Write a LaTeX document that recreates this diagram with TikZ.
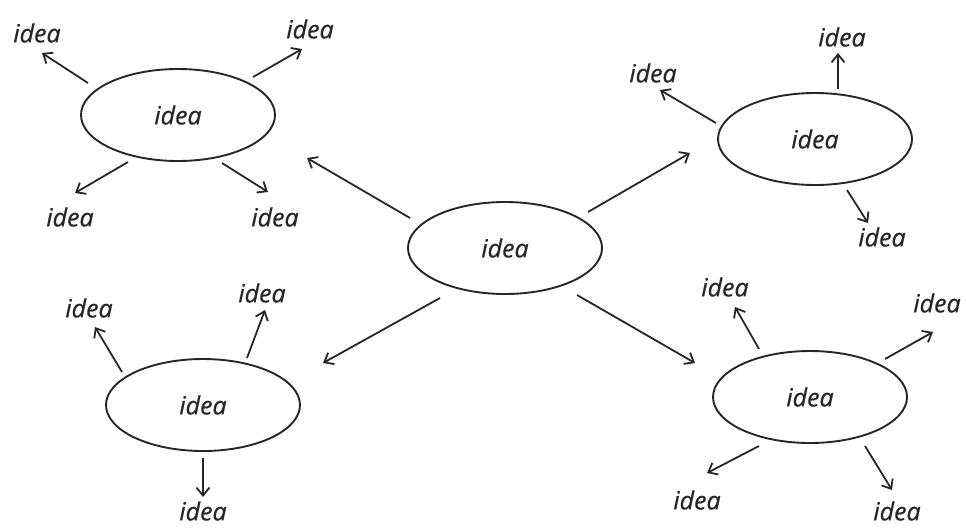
\documentclass[tikz,border=0pt]{standalone}
\usepackage{fontspec}
\setmainfont{Open Sans}[FakeBold=0.6]
\usetikzlibrary{shapes.geometric,arrows.meta,calc}
\begin{document}
\begin{tikzpicture}[x=1pt,y=-1pt,
  bubble/.style={draw, ellipse, line width=1.9pt, minimum width=194pt, minimum height=92pt, inner sep=0pt, font=\fontsize{25}{27}\selectfont\itshape, text=black!85, draw=black!85},
  lbl/.style={inner sep=0pt, font=\fontsize{25}{27}\selectfont\itshape, text=black!85},
  arr/.style={-{Straight Barb[length=8pt,width=13pt,line width=1.8pt]}, line width=1.8pt, draw=black!85}]
\useasboundingbox (0,0) rectangle (966,528);
% ellipses
\node[bubble] (e1) at (178,115) {idea};
\node[bubble] (e2) at (815,139) {idea};
\node[bubble] (e3) at (505,248) {idea};
\node[bubble] (e4) at (203,405) {idea};
\node[bubble] (e5) at (810,397) {idea};
% labels
\node[lbl] (l1a) at (37,33) {idea};
\node[lbl] (l1b) at (310,29) {idea};
\node[lbl] (l1c) at (70,217) {idea};
\node[lbl] (l1d) at (275,217) {idea};
\node[lbl] (l2a) at (653,73) {idea};
\node[lbl] (l2b) at (842,37) {idea};
\node[lbl] (l2c) at (882,237) {idea};
\node[lbl] (l4a) at (89,308) {idea};
\node[lbl] (l4b) at (262,293) {idea};
\node[lbl] (l4c) at (203,511) {idea};
\node[lbl] (l5a) at (725,287) {idea};
\node[lbl] (l5b) at (937,303) {idea};
\node[lbl] (l5c) at (697,500) {idea};
\node[lbl] (l5d) at (897,511) {idea};
% arrows from e1
\draw[arr] ($(e1)+(-90,-32)$) -- ($(l1a)+(5,20)$);
\draw[arr] ($(e1)+(75,-38)$) -- ($(l1b)+(-8,20)$);
\draw[arr] ($(e1)+(-50,47)$) -- ($(l1c)+(5,-24)$);
\draw[arr] ($(e1)+(44,48)$) -- ($(l1d)+(-7,-25)$);
% arrows from e2
\draw[arr] ($(e2)+(-99,-16)$) -- ($(l2a)+(7,17)$);
\draw[arr] ($(e2)+(23,-50)$) -- ($(l2b)+(-4,16)$);
\draw[arr] ($(e2)+(32,51)$) -- ($(l2c)+(-14,-14)$);
% arrows from e3
\draw[arr] ($(e3)+(-95,-30)$) -- ($(e1)+(129,43)$);
\draw[arr] ($(e3)+(83,-36)$) -- ($(e2)+(-125,14)$);
\draw[arr] ($(e3)+(-65,50)$) -- ($(e4)+(120,-42)$);
\draw[arr] ($(e3)+(72,47)$) -- ($(e5)+(-115,-34)$);
% arrows from e4
\draw[arr] ($(e4)+(-81,-33)$) -- ($(l4a)+(6,19)$);
\draw[arr] ($(e4)+(44,-47)$) -- ($(l4b)+(3,17)$);
\draw[arr] ($(e4)+(0,53)$) -- ($(l4c)+(0,-14)$);
% arrows from e5
\draw[arr] ($(e5)+(-51,-48)$) -- ($(l5a)+(10,20)$);
\draw[arr] ($(e5)+(75,-38)$) -- ($(l5b)+(-4,29)$);
\draw[arr] ($(e5)+(-51,49)$) -- ($(l5c)+(10,-27)$);
\draw[arr] ($(e5)+(55,49)$) -- ($(l5d)+(-5,-21)$);
\end{tikzpicture}
\end{document}
